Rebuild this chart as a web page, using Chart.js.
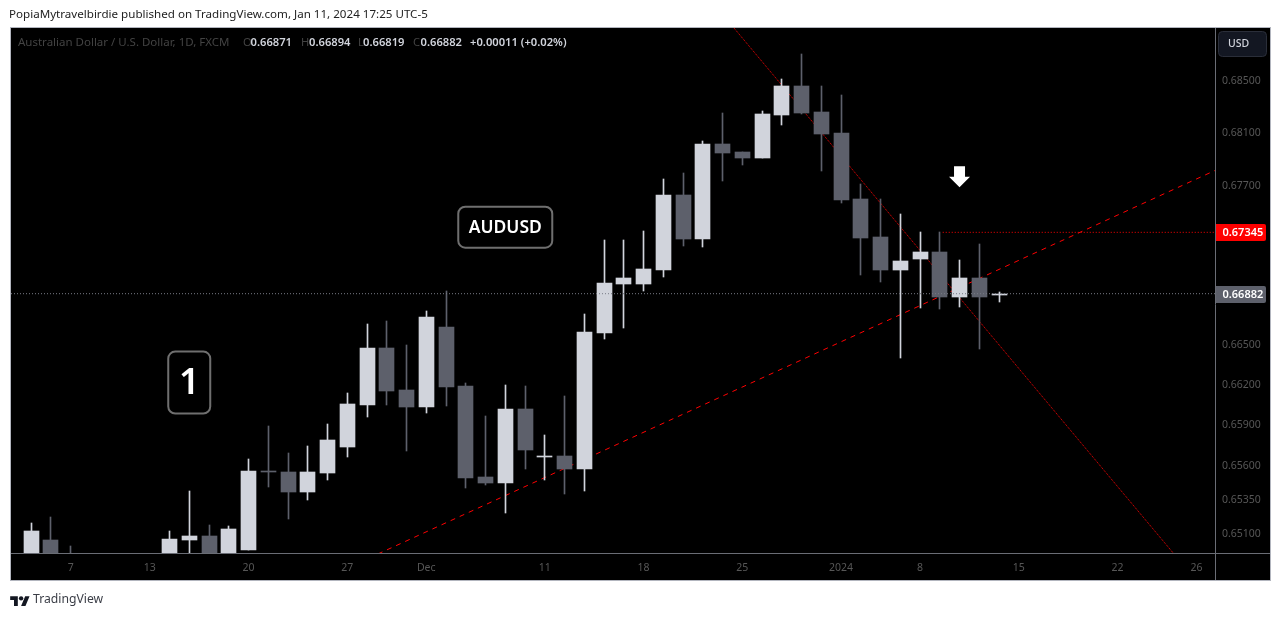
<!DOCTYPE html>
<html><head><meta charset="utf-8">
<script src="https://cdn.jsdelivr.net/npm/chart.js@4/dist/chart.umd.js"></script>
<style>
html,body{margin:0;padding:0;background:#fff;overflow:hidden}
#wrap{position:relative;width:1281px;height:617px}
canvas{position:absolute;left:0;top:0}
.t{position:absolute;white-space:nowrap;font-family:"Noto Sans",sans-serif;font-size:11.2px;line-height:14px}
.g{color:#434343}.v{color:#d1d4dc;font-weight:600}
</style></head><body>
<div id="wrap">
<canvas id="c" width="1281" height="617"></canvas>
<div class="t" style="left:9px;top:7px;color:#222;font-size:11.6px">PopiaMytravelbirdie published on TradingView.com, Jan 11, 2024 17:25 UTC-5</div>
<div class="t g" style="left:18px;top:35px;font-size:11.5px">Australian Dollar / U.S. Dollar, 1D, FXCM</div>
<div class="t g" style="left:243px;top:35px">O</div><div class="t v" style="left:250.5px;top:35px">0.66871</div>
<div class="t g" style="left:301px;top:35px">H</div><div class="t v" style="left:309px;top:35px">0.66894</div>
<div class="t g" style="left:358px;top:35px">L</div><div class="t v" style="left:363px;top:35px">0.66819</div>
<div class="t g" style="left:413px;top:35px">C</div><div class="t v" style="left:420.5px;top:35px">0.66882</div>
<div class="t v" style="left:470px;top:35px">+0.00011 (+0.02%)</div>
<svg style="position:absolute;left:10px;top:594px" width="20" height="12" viewBox="0 0 36 22"><path d="M14 22H7V11H0V4h14v18zM28 22h-8l7.5-18h8L28 22z" fill="#131722"/><circle cx="20" cy="8" r="4" fill="#131722"/></svg>
<div class="t" style="left:33px;top:592px;color:#3a3d46;font-size:12.2px">TradingView</div>
</div>
<script>
const dates=['Nov 3','Nov 6','Nov 7','Nov 8','Nov 9','Nov 10','Nov 13','Nov 14','Nov 15','Nov 16','Nov 17','Nov 20','Nov 21','Nov 22','Nov 23','Nov 24','Nov 27','Nov 28','Nov 29','Nov 30','Dec 1','Dec 4','Dec 5','Dec 6','Dec 7','Dec 8','Dec 11','Dec 12','Dec 13','Dec 14','Dec 15','Dec 18','Dec 19','Dec 20','Dec 21','Dec 22','Dec 25','Dec 26','Dec 27','Dec 28','Dec 29','Jan 2','Jan 3','Jan 4','Jan 5','Jan 8','Jan 9','Jan 10','Jan 11','Jan 12'];
const opens =[.6478,.65056,.6480,.6420,.6415,.6375,.6365,.6380,.65056,.65085,.6488,.64983,.65563,.65556,.65409,.65549,.65741,.66053,.66478,.66165,.66038,.66635,.66195,.65519,.65475,.66023,.65667,.65674,.65578,.66590,.66952,.66952,.67058,.67626,.67293,.68016,.67954,.67908,.68239,.68462,.68262,.68100,.67596,.67308,.67058,.67141,.67194,.66860,.66997,.66871];
const highs =[.65181,.65225,.65012,.6440,.6445,.6395,.6385,.65122,.65416,.65166,.65159,.65652,.65896,.65696,.65748,.65911,.66142,.66657,.66680,.66500,.66755,.66906,.66215,.65971,.66202,.66195,.65829,.66120,.66732,.67285,.67285,.67353,.67748,.67794,.68039,.68254,.67954,.68269,.68515,.68709,.68462,.68392,.67710,.67596,.67482,.67346,.67346,.67133,.67255,.66894];
const lows  =[.6470,.6465,.6410,.6405,.6365,.6340,.6340,.6375,.6480,.6470,.6480,.64983,.65446,.65210,.65350,.65497,.65667,.65963,.66053,.65711,.65993,.66046,.65438,.65460,.65254,.65578,.65497,.65394,.65416,.66545,.66627,.66906,.67005,.67240,.67232,.67733,.67855,.67908,.68162,.68246,.67809,.67566,.67020,.66967,.66403,.66777,.66770,.66785,.66470,.66819];
const closes=[.65122,.6480,.6420,.6415,.6375,.6365,.6375,.65063,.65085,.6485,.65137,.65563,.65556,.65409,.65556,.65792,.66060,.66478,.66157,.66038,.66710,.66187,.65512,.65475,.66023,.65718,.65674,.65578,.66597,.66959,.66997,.67065,.67626,.67293,.68016,.67947,.67908,.68246,.68462,.68254,.68092,.67588,.67300,.67058,.67126,.67194,.66860,.66997,.66860,.66882];
const firstIndex=-2;
const xTickIndexes=[0,4,9,14,18,24,29,34,39,43,48,53,57];
const xTickLabels=['7','13','20','27','Dec','11','18','25','2024','8','15','22','26'];
const yTicks=[.685,.681,.677,.673,.669,.665,.662,.659,.656,.6535,.651];
const xRange=[-3.025,57.935];
const yRange=[.64953,.68910];
const lastPrice=.66882, levelPrice=.67345;
const trendUp=[[15.55,.64953],[57.935,.67815]];
const trendDown=[[33.58,.68910],[55.86,.64953]];
const levelLine=[[44.15,levelPrice],[57.935,levelPrice]];
const priceLine=[[-3.025,lastPrice],[57.935,lastPrice]];
const notes=[{text:'AUDUSD',x:22.0,y:.67384},{text:'1',x:6.0,y:.66217}];
const arrowAt={x:45,y:.67768};

const UP='#d1d4dc',DOWN='#5d606b';
const idx=dates.map((d,i)=>i+firstIndex);
const col=opens.map((o,i)=>closes[i]>=o?UP:DOWN);
const pts=a=>a.map(p=>({x:p[0],y:p[1]}));
const FONT='"Noto Sans",sans-serif';

const frame={id:'frame',
 beforeDraw(ch){const c=ch.ctx;c.save();c.fillStyle='#000';c.fillRect(11,28,1259,552);c.restore();},
 afterDatasetsUpdate(ch){
  ch.data.datasets.forEach((d,i)=>{if(d.type!=='bar')return;
   ch.getDatasetMeta(i).data.forEach(e=>{
     e.x=Math.round(e.x-.5)+.5;e.y=Math.round(e.y);e.base=Math.round(e.base);
     if(e.y===e.base)e.base=e.y+1;});});
 },
 afterDraw(ch){const c=ch.ctx,y=ch.scales.y,x=ch.scales.x;c.save();
  c.strokeStyle='#6a6d75';c.lineWidth=1;
  c.beginPath();c.moveTo(1215.5,28);c.lineTo(1215.5,581);c.moveTo(11,553.5);c.lineTo(1271,553.5);c.stroke();
  c.strokeStyle='#b2b5be';c.strokeRect(10.5,27.5,1260,553);
  // USD button
  c.fillStyle='#131722';c.strokeStyle='#2a2e39';c.beginPath();c.roundRect(1218.5,31.5,48,25,4);c.fill();c.stroke();
  c.fillStyle='#d1d4dc';c.font='500 10.5px '+FONT;c.textBaseline='middle';c.textAlign='left';c.fillText('USD',1228,44.5);
  // price tags
  [[levelPrice,'#ff0000'],[lastPrice,'#5d606b']].forEach(([p,color])=>{
    const py=Math.round(y.getPixelForValue(p));
    c.fillStyle=color;c.beginPath();c.roundRect(1216,py-8,50,17,[0,2,2,0]);c.fill();
    c.fillStyle='#fff';c.font='600 11px '+FONT;c.textAlign='left';c.textBaseline='middle';c.fillText(p.toFixed(5),1222.5,py+1);
  });
  // notes
  notes.forEach(n=>{const nx=x.getPixelForValue(n.x),ny=y.getPixelForValue(n.y);
    const big=n.text.length===1;const w=big?42:94,h=big?62:41;
    c.fillStyle='#000';c.strokeStyle='#6f6f6f';c.lineWidth=2;c.beginPath();c.roundRect(nx-w/2,ny-h/2,w,h,7);c.fill();c.stroke();
    c.fillStyle='#fff';c.font=(big?'600 36px ':'600 17.5px ')+FONT;c.textAlign='center';c.textBaseline='middle';c.fillText(n.text,nx,ny+1);
  });
  // arrow
  const ax=x.getPixelForValue(arrowAt.x),ay=y.getPixelForValue(arrowAt.y);
  c.fillStyle='#fff';c.beginPath();c.moveTo(ax,ay+10.5);c.lineTo(ax+10.5,ay);c.lineTo(ax+5.5,ay);c.lineTo(ax+5.5,ay-10.5);c.lineTo(ax-5.5,ay-10.5);c.lineTo(ax-5.5,ay);c.lineTo(ax-10.5,ay);c.closePath();c.fill();
  c.restore();}
};

new Chart(document.getElementById('c'),{
 type:'bar',
 data:{datasets:[
  {type:'line',order:0,data:pts(priceLine),borderColor:'#787b86',borderWidth:1,borderDash:[1,2],pointRadius:0,tension:0},
  {type:'bar',order:2,grouped:false,data:idx.map((x,i)=>({x,y:[opens[i],closes[i]]})),backgroundColor:col,barThickness:15,borderWidth:0},
  {type:'bar',order:3,grouped:false,data:idx.map((x,i)=>({x,y:[lows[i],highs[i]]})),backgroundColor:col,barThickness:1,borderWidth:0},
  {type:'line',order:5,data:pts(trendUp),borderColor:'#ff0000',borderWidth:1,borderDash:[5,5],pointRadius:0,tension:0},
  {type:'line',order:5,data:pts(trendDown),borderColor:'#ff0000',borderWidth:1,borderDash:[1,1],pointRadius:0,tension:0},
  {type:'line',order:5,data:pts(levelLine),borderColor:'#ff0000',borderWidth:1,borderDash:[1,2],pointRadius:0,tension:0}
 ]},
 options:{responsive:false,animation:false,devicePixelRatio:1,
  layout:{padding:{left:11,top:28,right:11,bottom:36}},
  plugins:{legend:{display:false},tooltip:{enabled:false}},
  scales:{
   x:{type:'linear',bounds:'data',min:xRange[0],max:xRange[1],offset:false,
    grid:{display:false,drawTicks:false},border:{display:false},
    afterBuildTicks(s){s.ticks=xTickIndexes.map(v=>({value:v}));},
    afterFit(s){s.height=27;},
    ticks:{autoSkip:false,maxRotation:0,padding:8,color:'#575757',font:{family:FONT,size:10.5},
      callback:(v)=>xTickLabels[xTickIndexes.indexOf(v)]}},
   y:{type:'logarithmic',position:'right',bounds:'data',min:yRange[0],max:yRange[1],
    grid:{display:false,drawTicks:false},border:{display:false},
    afterBuildTicks(s){s.ticks=yTicks.map(v=>({value:v}));},
    afterFit(s){s.width=55;},
    ticks:{autoSkip:false,padding:7,color:'#575757',font:{family:FONT,size:10.5},
      callback:(v)=>Number(v).toFixed(5)}}
  }},
 plugins:[frame]
});
</script>
</body></html>
